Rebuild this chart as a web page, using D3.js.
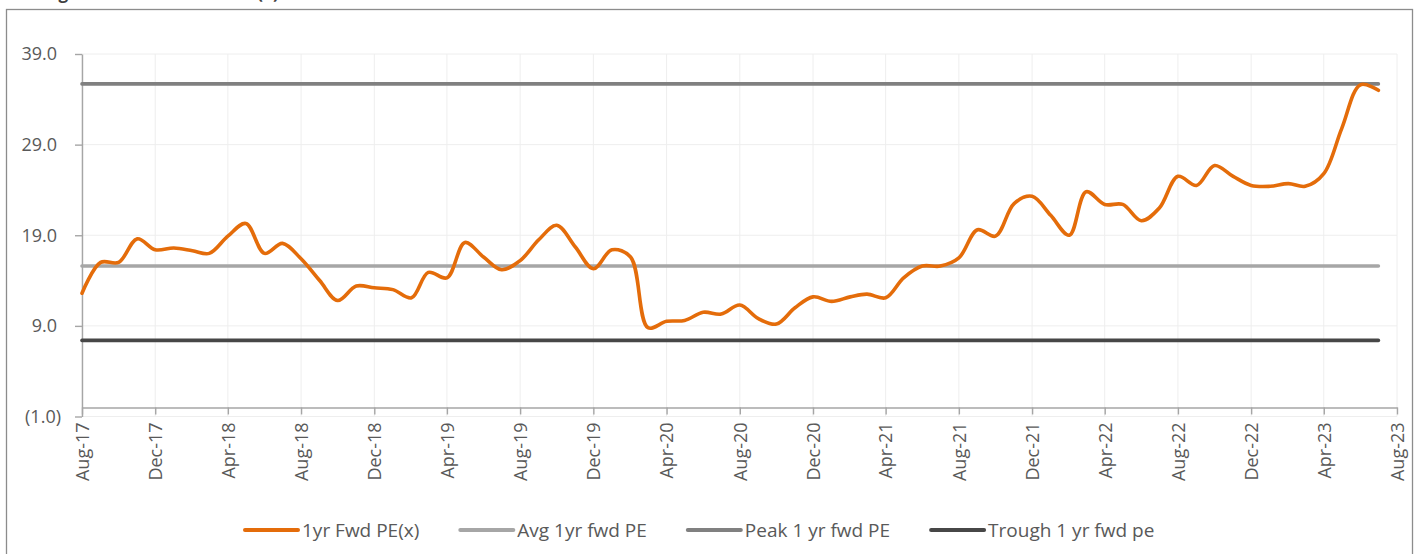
<!DOCTYPE html>
<html>
<head>
<meta charset="utf-8">
<script src="https://cdn.jsdelivr.net/npm/d3@7"></script>
<style>
  body { margin: 0; background: #fff; }
  svg { display: block; font-family: "Open Sans", sans-serif; }
  .axis path, .axis line { stroke: #a6a6a6; stroke-width: 1.4px; }
  .axis text { fill: #595959; font-size: 18px; font-family: "Open Sans", sans-serif; }
  .grid line { stroke: #eeeeee; stroke-width: 1px; }
  .legend text { fill: #595959; font-size: 19px; }
</style>
</head>
<body>
<svg id="chart" width="1417" height="554"></svg>
<script>
// Monthly 1yr forward PE, Aug-17 .. Jul-23
var peValues = [
    12.6, 16.0, 16.0, 18.6, 17.4, 17.6, 17.3, 17.0, 18.9, 20.3, 17.0, 18.1,
    16.4, 14.0, 11.8, 13.4, 13.2, 13.0, 12.1, 14.9, 14.3, 18.2, 16.6, 15.2,
    16.2, 18.5, 20.1, 17.7, 15.3, 17.4, 16.6, 8.8, 9.5, 9.6, 10.5, 10.3,
    11.3, 9.8, 9.2, 11.0, 12.2, 11.7, 12.2, 12.5, 12.1, 14.3, 15.6, 15.6,
    16.5, 19.6, 18.9, 22.5, 23.3, 21.2, 19.0, 23.8, 22.4, 22.4, 20.6, 22.0,
    25.5, 24.5, 26.7, 25.5, 24.5, 24.4, 24.7, 24.4, 25.8, 30.8, 35.6, 35.0
];
var avgPE = 15.6;
var peakPE = 35.7;
var troughPE = 7.4;
var yTicks = [-1, 9, 19, 29, 39];
var seriesNames = ["1yr Fwd PE(x)", "Avg 1yr fwd PE", "Peak 1 yr fwd PE", "Trough 1 yr fwd pe"];
var chartTitle = "Rolling 1 Yr Forward PE Band (x)";

var firstMonth = new Date(2017, 7, 1);
var lastTick = new Date(2023, 7, 1);

var months = peValues.map(function(d, i) { return d3.timeMonth.offset(firstMonth, i) });
var xTicks = d3.range(0, 73, 4).map(function(i) { return d3.timeMonth.offset(firstMonth, i) });

var colors = ["#e46c0a", "#a6a6a6", "#808080", "#474747"];

var svg = d3.select("#chart");

var x = d3.scaleTime().domain([firstMonth, lastTick]).range([82, 1397]);
var y = d3.scaleLinear().domain([-1, 39]).range([416.5, 54]);

// Chart frame and title (cropped at the top edge, as in the source image).
svg.append("rect")
    .attr("x", 6.5)
    .attr("y", 9.5)
    .attr("width", 1406)
    .attr("height", 580)
    .attr("fill", "none")
    .attr("stroke", "#8c8c8c")
    .attr("stroke-width", 1.3);

svg.append("text")
    .attr("x", 10)
    .attr("y", -1)
    .style("font-size", "17px")
    .style("font-weight", "bold")
    .style("fill", "#404040")
    .text(chartTitle);

// Gridlines.
var grid = svg.append("g").attr("class", "grid");
grid.selectAll(".h")
    .data(yTicks)
    .join("line")
        .attr("x1", x.range()[0])
        .attr("x2", x.range()[1])
        .attr("y1", function(d) { return y(d) })
        .attr("y2", function(d) { return y(d) });
grid.selectAll(".v")
    .data(xTicks)
    .join("line")
        .attr("x1", function(d) { return x(d) })
        .attr("x2", function(d) { return x(d) })
        .attr("y1", y(39))
        .attr("y2", y(-1));

// Axes.
var fmt = d3.format(".1f");
var yAxis = d3.axisLeft(y)
    .tickValues(yTicks)
    .tickSize(7)
    .tickSizeOuter(0)
    .tickPadding(14)
    .tickFormat(function(d) { return d < 0 ? "(" + fmt(-d) + ")" : fmt(d) });

svg.append("g")
    .attr("class", "axis")
    .attr("transform", "translate(82,0)")
    .call(yAxis)
    .selectAll("text")
        .attr("dx", function(d) { return d < 0 ? 0 : -4 });

var xAxis = d3.axisBottom(x)
    .tickValues(xTicks)
    .tickSize(7)
    .tickSizeOuter(0)
    .tickFormat(d3.timeFormat("%b-%y"));

svg.append("g")
    .attr("class", "axis")
    .attr("transform", "translate(0," + y(0) + ")")
    .call(xAxis)
    .selectAll("text")
        .attr("y", 0)
        .attr("x", -15)
        .attr("dy", "0.35em")
        .attr("transform", "rotate(-90)")
        .style("text-anchor", "end");

// Band lines, then the PE series on top.
var ends = [months[0], months[months.length - 1]];
var flat = d3.line()
    .x(function(d) { return x(d[0]) })
    .y(function(d) { return y(d[1]) });

[avgPE, peakPE, troughPE].forEach(function(level, i) {
    svg.append("path")
        .datum(ends.map(function(m) { return [m, level] }))
        .attr("d", flat)
        .attr("fill", "none")
        .attr("stroke", colors[i + 1])
        .attr("stroke-width", 3.6)
        .attr("stroke-linecap", "round");
});

var peLine = d3.line()
    .x(function(d, i) { return x(months[i]) })
    .y(function(d) { return y(d) })
    .curve(d3.curveCatmullRom.alpha(0.5));

svg.append("path")
    .datum(peValues)
    .attr("d", peLine)
    .attr("fill", "none")
    .attr("stroke", colors[0])
    .attr("stroke-width", 3.6)
    .attr("stroke-linecap", "round")
    .attr("stroke-linejoin", "round");

// Legend.
var legend = svg.append("g").attr("class", "legend");
var lx = 245;
seriesNames.forEach(function(name, i) {
    var item = legend.append("g").attr("transform", "translate(" + lx + ",530)");
    item.append("line")
        .attr("x1", 0)
        .attr("x2", 53)
        .attr("stroke", colors[i])
        .attr("stroke-width", 4)
        .attr("stroke-linecap", "round");
    var t = item.append("text")
        .attr("x", 57)
        .attr("dy", "0.35em")
        .text(name);
    lx += 57 + t.node().getComputedTextLength() + 41;
});
</script>
</body>
</html>
